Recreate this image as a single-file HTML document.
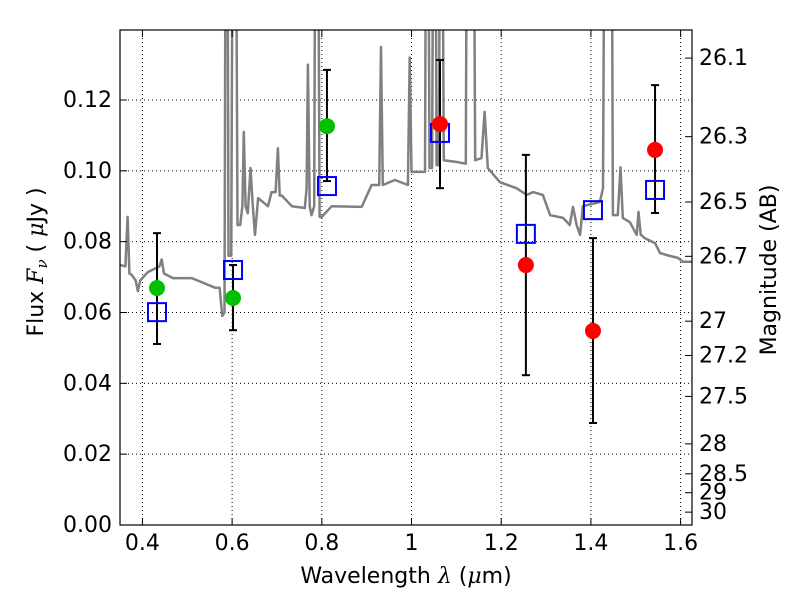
<!DOCTYPE html>
<html><head><meta charset="utf-8"><style>
html,body{margin:0;padding:0;background:#fff;}
svg text{font-family:"DejaVu Sans","Liberation Sans",sans-serif;}
</style></head><body>
<svg id="chart" width="800" height="600" viewBox="0 0 800 600" xmlns="http://www.w3.org/2000/svg"></svg>
<script>
const specWave=[0.35,0.362,0.367,0.371,0.376,0.385,0.39,0.395,0.412,0.438,0.443,0.448,0.468,0.51,0.562,0.572,0.578,0.583,0.586,0.589,0.592,0.598,0.602,0.608,0.612,0.618,0.623,0.626,0.630,0.635,0.641,0.646,0.651,0.658,0.68,0.688,0.697,0.702,0.706,0.711,0.733,0.762,0.766,0.769,0.773,0.777,0.783,0.786,0.791,0.795,0.80,0.822,0.889,0.911,0.928,0.932,0.936,0.963,0.992,0.996,1.0,1.03,1.033,1.037,1.04,1.046,1.049,1.053,1.056,1.061,1.064,1.068,1.072,1.101,1.121,1.124,1.138,1.142,1.156,1.163,1.17,1.197,1.234,1.257,1.271,1.293,1.309,1.338,1.353,1.36,1.368,1.376,1.382,1.42,1.427,1.431,1.446,1.449,1.46,1.466,1.471,1.487,1.502,1.506,1.511,1.52,1.543,1.554,1.569,1.594,1.605,1.625];
const specFlux=[0.0734,0.073,0.087,0.071,0.0706,0.069,0.066,0.069,0.0714,0.073,0.075,0.071,0.0697,0.0697,0.067,0.067,0.059,0.06,0.2,0.2,0.076,0.076,0.2,0.2,0.0847,0.0847,0.09,0.111,0.09,0.088,0.1008,0.09,0.0819,0.0923,0.090,0.094,0.094,0.1064,0.093,0.093,0.090,0.0895,0.095,0.130,0.09,0.0875,0.09,0.2,0.2,0.087,0.087,0.090,0.0898,0.096,0.096,0.135,0.096,0.0974,0.096,0.132,0.0997,0.0997,0.2,0.2,0.1008,0.1008,0.2,0.2,0.1016,0.1016,0.2,0.2,0.103,0.1025,0.102,0.2,0.2,0.103,0.1036,0.1167,0.1008,0.0968,0.0951,0.0932,0.094,0.0932,0.0875,0.0867,0.0847,0.0898,0.0847,0.0819,0.090,0.0912,0.0951,0.2,0.2,0.0875,0.0875,0.101,0.0867,0.0855,0.0819,0.0884,0.082,0.081,0.0796,0.0768,0.0762,0.0754,0.0743,0.0743];
const greenWave=[0.4325,0.602,0.8115];
const greenFlux=[0.0669,0.0641,0.1126];
const redWave=[1.0635,1.255,1.4046,1.543];
const redFlux=[0.1132,0.0734,0.0548,0.1059];
const modelWave=[0.4325,0.602,0.8115,1.0635,1.255,1.4046,1.543];
const modelFlux=[0.0601,0.072,0.0957,0.1107,0.0822,0.0889,0.0946];
const errWave=[0.4325,0.602,0.8115,1.0635,1.255,1.4046,1.543];
const errLow=[0.0511,0.055,0.0971,0.0951,0.0423,0.0288,0.0881];
const errHigh=[0.0824,0.0734,0.1285,0.1313,0.1045,0.081,0.1242];
const xTicks=[0.4,0.6,0.8,1.0,1.2,1.4,1.6];
const xTickLabels=["0.4","0.6","0.8","1","1.2","1.4","1.6"];
const yTicks=[0,0.02,0.04,0.06,0.08,0.10,0.12];
const yTickLabels=["0.00","0.02","0.04","0.06","0.08","0.10","0.12"];
const magTicks=[26.1,26.3,26.5,26.7,27,27.2,27.5,28,28.5,29,30];
const magTickLabels=["26.1","26.3","26.5","26.7","27","27.2","27.5","28","28.5","29","30"];

const L=120,R=692,T=30,B=525;
const xMin=0.35,xMax=1.6254,yMin=0,yMax=0.13976;
const xs=v=>L+(v-xMin)/(xMax-xMin)*(R-L);
const ys=v=>B-(v-yMin)/(yMax-yMin)*(B-T);
const NS="http://www.w3.org/2000/svg";
const svg=document.getElementById('chart');
function mk(tag,attrs,parent){const e=document.createElementNS(NS,tag);for(const k in attrs)e.setAttribute(k,attrs[k]);(parent||svg).appendChild(e);return e;}

const defs=mk('defs',{});
const cp=mk('clipPath',{id:'clip'},defs);
mk('rect',{x:L,y:T,width:R-L,height:B-T},cp);

const grid=mk('g',{});


xTicks.forEach(t=>{mk('line',{x1:xs(t),x2:xs(t),y1:T,y2:B,stroke:'#000','stroke-width':1,'stroke-dasharray':'1,3'},grid);});
yTicks.forEach(t=>{mk('line',{x1:L,x2:R,y1:ys(t),y2:ys(t),stroke:'#000','stroke-width':1,'stroke-dasharray':'1,3'},grid);});

const plot=mk('g',{'clip-path':'url(#clip)'});
let d='';
specWave.forEach((w,i)=>{d+=(i?'L':'M')+xs(w).toFixed(1)+','+ys(specFlux[i]).toFixed(1);});
const sp=mk('path',{d:d,fill:'none',stroke:'#808080','stroke-width':2.5,'stroke-linejoin':'round'},plot);



errWave.forEach((w,i)=>{
  const g=mk('g',{stroke:'#000','stroke-width':2},plot);
  
  
  const x=xs(w),y1=ys(errLow[i]),y2=ys(errHigh[i]);
  mk('line',{x1:x,x2:x,y1:y1,y2:y2},g);
  mk('line',{x1:x-4,x2:x+4,y1:y1,y2:y1},g);
  mk('line',{x1:x-4,x2:x+4,y1:y2,y2:y2},g);
});
modelWave.forEach((w,i)=>{
  const r=mk('rect',{x:xs(w)-9,y:ys(modelFlux[i])-9,width:18,height:18,fill:'none',stroke:'#0000ff','stroke-width':2},plot);
  
  
});
greenWave.forEach((w,i)=>{
  const c=mk('circle',{cx:xs(w),cy:ys(greenFlux[i]),r:8,fill:'#00c000'},plot);
  
  
});
redWave.forEach((w,i)=>{
  const c=mk('circle',{cx:xs(w),cy:ys(redFlux[i]),r:8,fill:'#ff0000'},plot);
  
  
});

const fr=mk('rect',{x:L,y:T,width:R-L,height:B-T,fill:'none',stroke:'#000','stroke-width':1.2});



xTicks.forEach((t,i)=>{
  mk('line',{x1:xs(t),x2:xs(t),y1:B,y2:B-7,stroke:'#000'});
  mk('line',{x1:xs(t),x2:xs(t),y1:T,y2:T+7,stroke:'#000'});
  const tx=mk('text',{x:xs(t),y:B+25,'font-size':22,'text-anchor':'middle'});
  tx.textContent=xTickLabels[i];
  
  
});
yTicks.forEach((t,i)=>{
  mk('line',{x1:L,x2:L+7,y1:ys(t),y2:ys(t),stroke:'#000'});
  const tx=mk('text',{x:L-8,y:ys(t)+7,'font-size':22,'text-anchor':'end'});
  tx.textContent=yTickLabels[i];
  
  
});
magTicks.forEach((m,i)=>{
  const f=Math.pow(10,(23.9-m)/2.5);
  const y=ys(f);
  mk('line',{x1:R,x2:R-7,y1:y,y2:y,stroke:'#000'});
  const tx=mk('text',{x:R+7,y:y+7,'font-size':22});
  tx.textContent=magTickLabels[i];
  
  
});

const xl=mk('text',{x:406,y:583,'font-size':22,'text-anchor':'middle','xml:space':'preserve'});
xl.innerHTML='Wavelength  <tspan font-style="italic" font-family="DejaVu Serif">λ</tspan> (<tspan font-style="italic" font-family="DejaVu Serif">μ</tspan>m)';


const yl=mk('text',{x:0,y:0,'font-size':22,'text-anchor':'middle',transform:'translate(43,262) rotate(-90)','xml:space':'preserve'});
yl.innerHTML='Flux  <tspan font-style="italic" font-family="DejaVu Serif">F</tspan><tspan font-style="italic" font-family="DejaVu Serif" font-size="15" dy="4">ν</tspan><tspan dy="-4">  (  </tspan><tspan font-style="italic" font-family="DejaVu Serif">μ</tspan>Jy )';


const rl=mk('text',{x:0,y:0,'font-size':22,'text-anchor':'middle',transform:'translate(776,270) rotate(-90)'});
rl.textContent='Magnitude (AB)';


</script>
</body></html>
